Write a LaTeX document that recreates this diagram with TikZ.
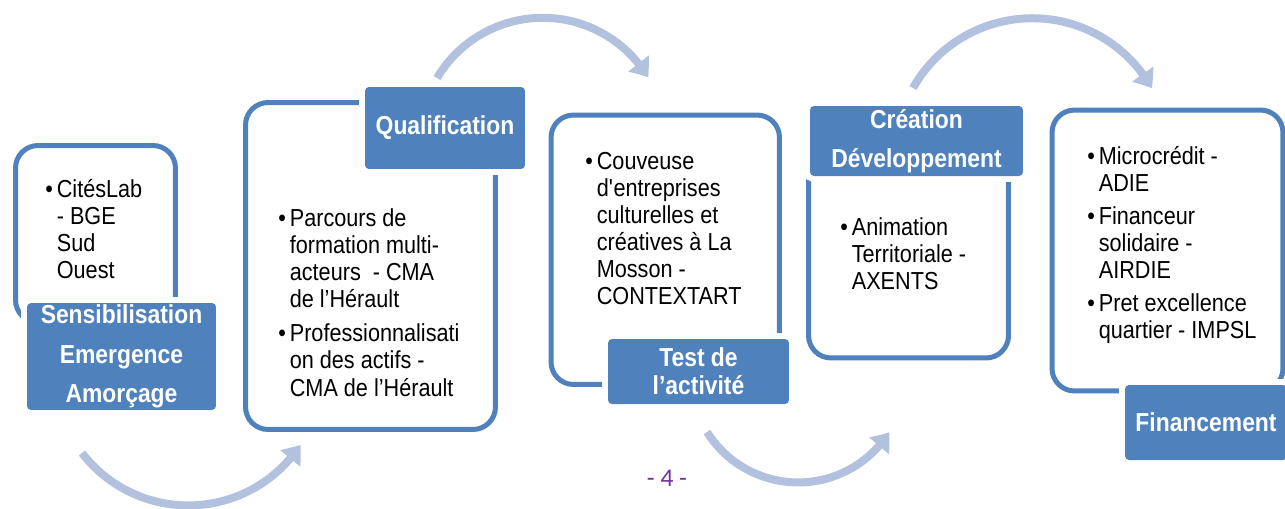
\documentclass[tikz,border=0pt]{standalone}
\usepackage{fontspec}
\setmainfont{Liberation Sans}[FakeStretch=0.88]
\newfontfamily\pagefont{Carlito}
\usetikzlibrary{arrows.meta,bending}
\definecolor{ublue}{RGB}{79,129,189}
\definecolor{lblue}{RGB}{178,193,221}
\definecolor{pnum}{RGB}{112,48,160}
\newcommand\itemdot{\makebox[0.23cm][l]{\textbullet}}
\newcommand\itemgap{\hspace*{0.23cm}}
\tikzset{
  frame/.style={draw=ublue, line width=0.1cm, rounded corners=0.45cm, inner sep=0pt},
  tag/.style={fill=ublue, rounded corners=0.08cm, inner sep=0pt, text=white, align=center,
    preaction={draw=white, line width=0.24cm}, font=\bfseries\fontsize{14.8}{22.5}\selectfont},
  items/.style={anchor=north west, inner sep=0pt, align=left, font=\fontsize{14}{15.4}\selectfont},
  flow/.style={draw=lblue, line width=0.16cm, -{Triangle[width=0.5cm, length=0.34cm, bend]}},
}
\begin{document}
\begin{tikzpicture}[x=0.02cm, y=-0.02cm]
  \useasboundingbox (0,0) rectangle (1285,508);
  \node[frame, minimum width=3.2cm, minimum height=3.54cm] (f1) at (95.5,234) {};
  \node[frame, minimum width=5.0cm, minimum height=6.54cm] (f2) at (370.5,266) {};
  \node[frame, minimum width=4.57cm, minimum height=5.39cm] (f3) at (665.25,249.75) {};
  \node[frame, minimum width=4.0cm, minimum height=4.36cm] (f4) at (908.5,249) {};
  \node[frame, minimum width=4.62cm, minimum height=5.62cm] (f5) at (1167.5,250.5) {};
  \node[tag, minimum width=3.78cm, minimum height=2.14cm] (t1) at (121.5,356.5) {Sensibilisation\\Emergence\\Amorçage};
  \node[tag, minimum width=3.2cm, minimum height=1.64cm] (t2) at (445,128) {Qualification};
  \node[tag, minimum width=3.62cm, minimum height=1.3cm, font=\bfseries\fontsize{14.8}{16}\selectfont] (t3) at (698.5,371.5) {Test de\\l’activité};
  \node[tag, minimum width=4.26cm, minimum height=1.4cm] (t4) at (916.5,141) {Création\\Développement};
  \node[tag, minimum width=3.24cm, minimum height=1.5cm] (t5) at (1206,422.5) {Financement};
  \node[items] (x1) at (45,179) {\itemdot CitésLab\\ \itemgap - BGE\\ \itemgap Sud\\ \itemgap Ouest};
  \node[items] (x2) at (278,208) {\itemdot Parcours de\\ \itemgap formation multi-\\ \itemgap acteurs\ \ - CMA\\ \itemgap de l’Hérault\\[0.15cm]
    \itemdot Professionnalisati\\ \itemgap on des actifs -\\ \itemgap CMA de l’Hérault};
  \node[items] (x3) at (585,152) {\itemdot Couveuse\\ \itemgap d\textquotesingle entreprises\\ \itemgap culturelles et\\ \itemgap créatives à La\\ \itemgap Mosson -\\ \itemgap CONTEXTART};
  \node[items] (x4) at (840,217) {\itemdot Animation\\ \itemgap Territoriale -\\ \itemgap AXENTS};
  \node[items] (x5) at (1087,146) {\itemdot Microcrédit -\\ \itemgap ADIE\\[0.12cm] \itemdot Financeur\\ \itemgap solidaire -\\ \itemgap AIRDIE\\[0.12cm]
    \itemdot Pret excellence\\ \itemgap quartier - IMPSL};
  \node[font=\pagefont\fontsize{14.5}{16}\selectfont, text=pnum, inner sep=0pt] (pg) at (667,478) {- 4 -};
  \coordinate (a1) at (82,453);
  \coordinate (a2) at (437,78);
  \coordinate (a3) at (707,432);
  \coordinate (a4) at (913,88);
  \draw[flow] (a1) arc[start angle=142.5, end angle=33.2, radius=134];
  \draw[flow] (a2) arc[start angle=-149.3, end angle=-31, radius=123];
  \draw[flow] (a3) arc[start angle=147.9, end angle=32.2, radius=107.6];
  \draw[flow] (a4) arc[start angle=-150.6, end angle=-29.2, radius=137];
\end{tikzpicture}
\end{document}
